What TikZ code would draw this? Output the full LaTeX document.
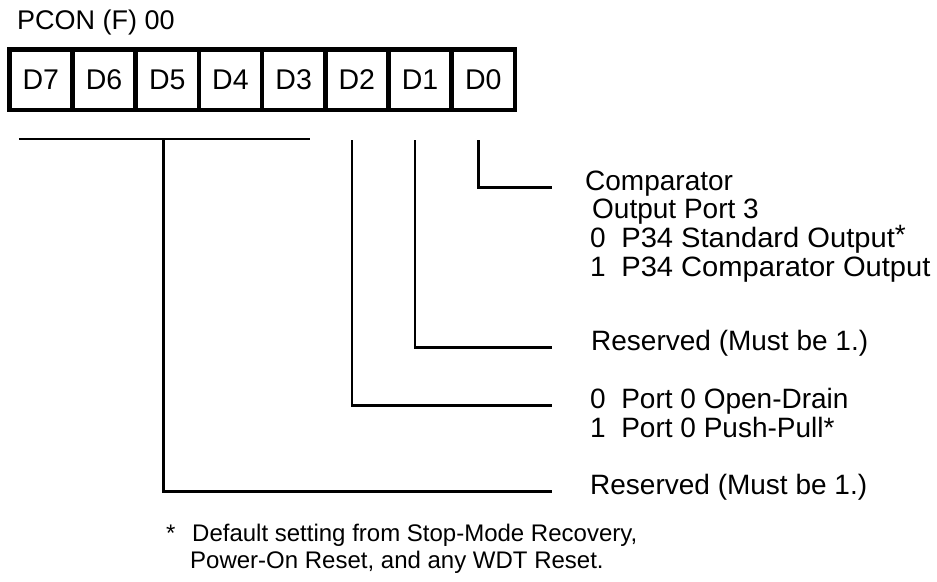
\documentclass[tikz,border=0pt]{standalone}
\usepackage{fontspec}
\setmainfont{Liberation Sans}
\usetikzlibrary{calc}
\usetikzlibrary{positioning}

\tikzset{
  cell/.style={draw,line width=4.5pt,outer sep=0pt,minimum width=63.2pt,minimum height=60.5pt,inner sep=0pt,font=\fontsize{28.5pt}{30pt}\selectfont},
  txt/.style={anchor=base west,inner sep=0pt,font=\fontsize{28pt}{30pt}\selectfont},
  note/.style={anchor=base west,inner sep=0pt,font=\fontsize{24pt}{26pt}\selectfont},
  conn/.style={black,line width=2.5pt}
}

\begin{document}
\begin{tikzpicture}[x=1pt,y=-1pt]

\useasboundingbox (0,0) rectangle (937,581);

\node at (17,29) [txt,font=\fontsize{27pt}{30pt}\selectfont] (title) {PCON (F) 00};

% register bits
\node[cell] (d7) at (40.85,79.75) {D7};
\node[cell,right=0pt of d7] (d6) {D6};
\node[cell,right=0pt of d6] (d5) {D5};
\node[cell,right=0pt of d5] (d4) {D4};
\node[cell,right=0pt of d4] (d3) {D3};
\node[cell,right=0pt of d3] (d2) {D2};
\node[cell,right=0pt of d2] (d1) {D1};
\node[cell,right=0pt of d1] (d0) {D0};

% descriptions
\node at (585,190) [txt] (cmpa) {Comparator};
\node at (592,218) [txt] (cmpb) {Output Port 3};
\node at (590,247) [txt] (cmpc) {0~~\scalebox{1.04}[1]{P34 Standard Output}\raisebox{3pt}{*}};
\node at (590,276) [txt] (cmpd) {1~~\scalebox{1.04}[1]{P34 Comparator Output}};
\node at (591,350) [txt] (rsva) {Reserved (Must be 1.)};
\node at (590,408) [txt] (pza) {0~~Port 0 Open-Drain};
\node at (590,437) [txt] (pzb) {1~~Port 0 Push-Pull*};
\node at (590,494) [txt] (rsvb) {Reserved (Must be 1.)};

\node at (166,541) [note] (star) {*};
\node at (192,541) [note] (notea) {Default setting from Stop-Mode Recovery,};
\node at (190,568) [note] (noteb) {Power-On Reset, and any WDT Reset.};

% connectors
\draw[conn] ([xshift=-5pt,yshift=-30pt]d0.south) |- ([xshift=-33pt]cmpa.mid west);
\draw[conn] ([xshift=-5pt,yshift=-30pt]d1.south) |- ([xshift=-39pt]rsva.mid west);
\draw[conn] ([xshift=-5pt,yshift=-30pt]d2.south) |- ([xshift=-38pt]pza.mid west);
\draw[conn] ([xshift=-22pt,yshift=-29pt]d7.south) -- ([xshift=16pt,yshift=-29pt]d3.south);
\draw[conn] ([xshift=-4pt,yshift=-29pt]d5.south) |- ([xshift=-38pt]rsvb.mid west);

\end{tikzpicture}
\end{document}
